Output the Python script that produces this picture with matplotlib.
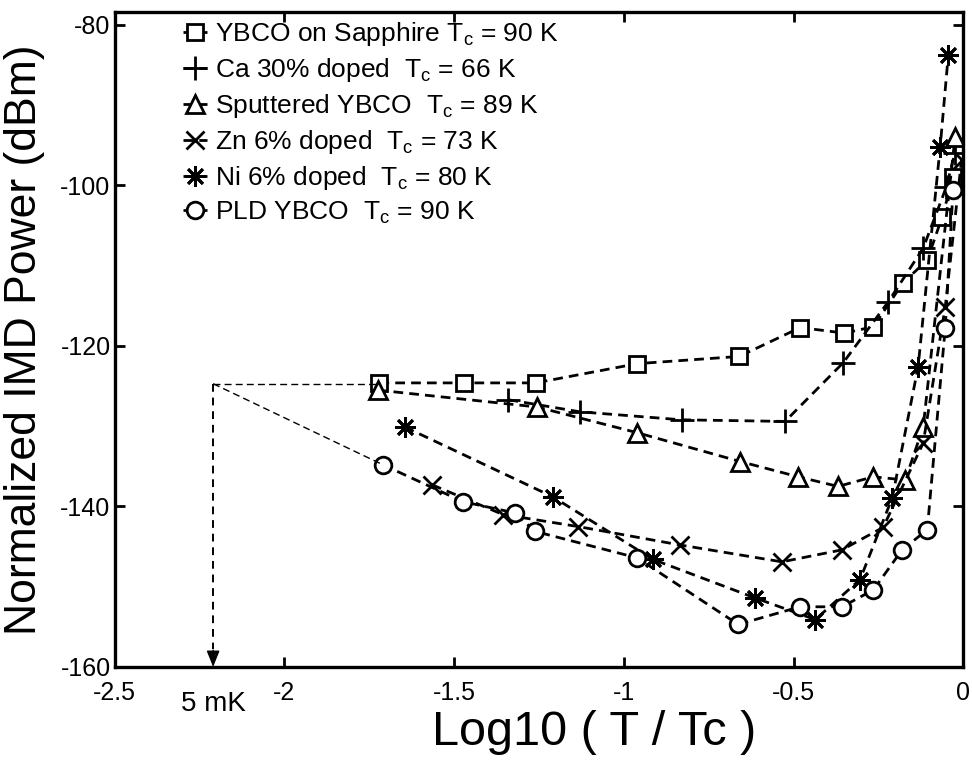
import matplotlib
matplotlib.use("Agg")
import matplotlib.pyplot as plt

plt.rcParams['font.family'] = ['Liberation Sans', 'DejaVu Sans']
plt.rcParams['mathtext.fontset'] = 'custom'
plt.rcParams['mathtext.rm'] = 'Liberation Sans'

# ---- data ----
sapph_x = [-1.72, -1.47, -1.26, -0.96, -0.66, -0.48, -0.35, -0.265, -0.177, -0.106, -0.062, -0.03]
sapph_y = [-124.6, -124.6, -124.6, -122.2, -121.3, -117.7, -118.4, -117.6, -112.1, -109.3, -103.9, -99.0]

ca_x = [-1.34, -1.13, -0.83, -0.525, -0.354, -0.221, -0.118, -0.05, -0.025]
ca_y = [-126.7, -128.2, -129.2, -129.4, -122.1, -114.5, -107.8, -100.2, -96.0]

sput_x = [-1.725, -1.256, -0.961, -0.657, -0.486, -0.369, -0.265, -0.171, -0.118, -0.024]
sput_y = [-125.5, -127.6, -130.8, -134.4, -136.3, -137.5, -136.3, -136.7, -130.1, -93.9]

zn_x = [-1.565, -1.356, -1.135, -0.834, -0.534, -0.357, -0.236, -0.118, -0.053, -0.005]
zn_y = [-137.3, -141.0, -142.5, -144.8, -146.9, -145.4, -142.6, -132.1, -115.1, -96.8]

ni_x = [-1.645, -1.209, -0.914, -0.613, -0.436, -0.304, -0.209, -0.133, -0.068, -0.044]
ni_y = [-130.1, -138.8, -146.6, -151.4, -154.1, -149.1, -138.9, -122.6, -95.2, -83.7]

pld_x = [-1.71, -1.474, -1.321, -1.262, -0.961, -0.663, -0.481, -0.357, -0.265, -0.180, -0.106, -0.053, -0.030]
pld_y = [-134.8, -139.4, -140.8, -143.1, -146.4, -154.7, -152.5, -152.5, -150.4, -145.4, -142.9, -117.7, -100.5]

labels = [
    r'YBCO on Sapphire $\mathregular{T_c}$ = 90 K',
    r'Ca 30% doped  $\mathregular{T_c}$ = 66 K',
    r'Sputtered YBCO  $\mathregular{T_c}$ = 89 K',
    r'Zn 6% doped  $\mathregular{T_c}$ = 73 K',
    r'Ni 6% doped  $\mathregular{T_c}$ = 80 K',
    r'PLD YBCO  $\mathregular{T_c}$ = 90 K',
]

xticks = [-2.5, -2, -1.5, -1, -0.5, 0]
xticklabels = ['-2.5', '-2', '-1.5', '-1', '-0.5', '0']
yticks = [-160, -140, -120, -100, -80]
yticklabels = ['-160', '-140', '-120', '-100', '-80']

arrow_x = -2.21
arrow_y = -124.7

# ---- figure ----
fig = plt.figure(figsize=(9.72, 7.6), dpi=100)
ax = fig.add_axes([0.118, 0.1224, 0.873, 0.8616])

dash = (0, (3.5, 2.2))
common = dict(color='k', lw=2.0, linestyle=dash, mfc='white', mec='k', mew=2.0)

series = [
    (sapph_x, sapph_y, 's', 11),
    (ca_x, ca_y, '+', 17),
    (sput_x, sput_y, '^', 13),
    (zn_x, zn_y, 'x', 13),
    (ni_x, ni_y, (8, 2, 0), 15),
    (pld_x, pld_y, 'o', 12),
]
for (xs, ys, m, ms), lab in zip(series, labels):
    ax.plot(xs, ys, marker=m, ms=ms, label=lab, **common)

# annotation lines (5 mK extrapolation)
thin = dict(color='k', lw=1.0, linestyle=(0, (5, 3)))
ax.plot([arrow_x, sapph_x[0]], [arrow_y, arrow_y], **thin)
ax.plot([arrow_x, pld_x[0]], [arrow_y, pld_y[0]], **thin)
ax.plot([arrow_x, arrow_x], [arrow_y, -157.8], color='k', lw=1.4, linestyle=(0, (4, 3)))
ax.annotate('', xy=(arrow_x, -160), xytext=(arrow_x, -157.9),
            arrowprops=dict(arrowstyle='-|>,head_width=0.4,head_length=1.0',
                            color='k', lw=1.0, shrinkA=0, shrinkB=0))
ax.text(arrow_x, -163.0, '5 mK', ha='center', va='top', fontsize=20)

ax.set_xlim(-2.5, 0)
ax.set_ylim(-160, -78.4)
ax.set_xticks(xticks)
ax.set_xticklabels(xticklabels)
ax.set_yticks(yticks)
ax.set_yticklabels(yticklabels)
ax.tick_params(direction='in', length=7, width=2, labelsize=18, top=True, right=True)
ax.tick_params(axis='x', pad=10)
ax.tick_params(axis='y', pad=3)
for s in ax.spines.values():
    s.set_linewidth(2.4)

ax.set_xlabel('Log10 ( T / Tc )', fontsize=35)
ax.xaxis.set_label_coords(0.565, -0.065)
ax.set_ylabel('Normalized IMD Power (dBm)', fontsize=32)
ax.yaxis.set_label_coords(-0.082, 0.5)

leg = ax.legend(loc='upper left', bbox_to_anchor=(0.062, 1.012), frameon=False,
                fontsize=19, handlelength=0.9, handletextpad=0.3,
                labelspacing=0.3, borderaxespad=0.2)

fig.savefig('out.png', dpi=100)
